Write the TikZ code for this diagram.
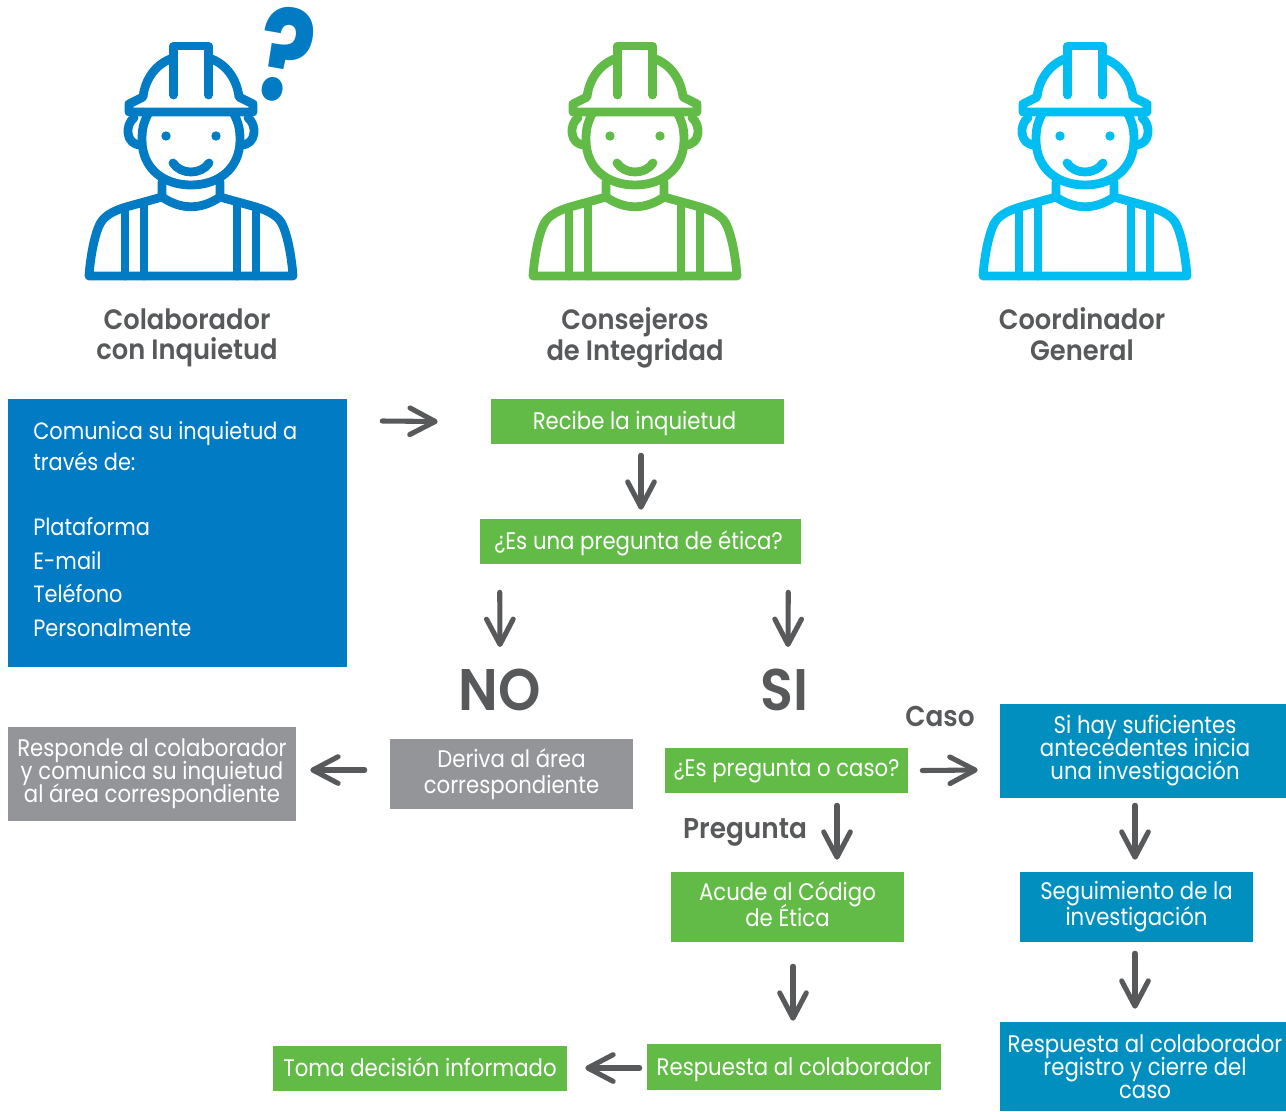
\documentclass[tikz,border=0pt]{standalone}
\usepackage{fontspec}
\setmainfont{Poppins}[FakeStretch=0.885]
\newfontfamily\qfont{Poppins}
\newfontfamily\semi{Poppins}[UprightFont=*-SemiBold,FakeStretch=0.92]
\usetikzlibrary{arrows.meta}
\definecolor{wblue}{HTML}{007BC4}
\definecolor{wgreen}{HTML}{62BB46}
\definecolor{wcyan}{HTML}{00BEF2}
\definecolor{wteal}{HTML}{008FBE}
\definecolor{wgray}{HTML}{939598}
\definecolor{wtext}{HTML}{58595B}
\newcommand\nols{\lineskiplimit=-30pt\relax}
\newcommand\tdp{\rule[-6pt]{0pt}{6pt}}
\newcommand\rsh{\hspace*{3pt}}
\tikzset{
  wh/.style 2 args={minimum width=#1*0.75pt,minimum height=#2*0.75pt},
  box/.style={inner sep=0pt,text=white,align=center,font=\fontsize{18}{19.5}\selectfont\nols},
  tight/.style={font=\fontsize{18}{17.25}\selectfont\nols},
  one/.style={text height=12pt,text depth=0pt},
  title/.style={inner sep=0pt,text=wtext,align=center,font=\semi\fontsize{21}{23}\selectfont\nols},
  big/.style={inner sep=0pt,text=wtext,text height=30pt,text depth=0pt,font=\semi\fontsize{44}{44}\selectfont},
  lab/.style={inner sep=0pt,text=wtext,font=\semi\fontsize{21.5}{22}\selectfont},
  arr/.style={draw=wtext,line width=3.8pt,line cap=round,
    -{Straight Barb[length=19pt,width=20pt,line width=3.8pt,round]}},
  pics/worker/.style={code={
    \begin{scope}[draw=#1,line width=6.6pt,line cap=round,line join=round]
      % helmet
      \draw (-17.5,95) -- (-17.5,46) -- (17.5,46) -- (17.5,95);
      \draw (-18,58) .. controls (-36,64) and (-46,80) .. (-48,97)
            -- (-62,104) -- (-62,112) -- (62,112) -- (62,104) -- (48,97)
            .. controls (46,80) and (36,64) .. (18,58);
      % face
      \draw (-43,114) .. controls (-48,124) and (-49,130) .. (-49,140)
            .. controls (-49,168) and (-28,185) .. (0,185)
            .. controls (28,185) and (49,168) .. (49,140)
            .. controls (49,130) and (48,124) .. (43,114);
      % ears
      \draw (-57,118) .. controls (-66,124) and (-66,145) .. (-50,145);
      \draw (57,118) .. controls (66,124) and (66,145) .. (50,145);
      % eyes and smile
      \fill[#1] (-25,136) circle[radius=4.7] (25,136) circle[radius=4.7];
      \draw (-18,163) .. controls (-10,175) and (10,175) .. (18,163);
      % neck and collar
      \draw (-29,182) -- (-29,197) .. controls (-10,210) and (10,210) .. (29,197) -- (29,182);
      % body
      \draw (-29,197) -- (-65,207) .. controls (-78,211) and (-88,216) .. (-92,226)
            .. controls (-98,240) and (-101,262) .. (-102,276) -- (102,276)
            .. controls (101,262) and (98,240) .. (92,226)
            .. controls (88,216) and (78,211) .. (65,207) -- (29,197);
      % straps
      \draw (-66,208) -- (-66,276) (-47,203) -- (-47,276);
      \draw (65,208) -- (65,276) (46,203) -- (46,276);
    \end{scope}
  }}
}
\begin{document}
\begin{tikzpicture}[x=0.75pt,y=-0.75pt]
\useasboundingbox (0,0) rectangle (1286,1111);
\pic at (191,0) {worker=wblue};
\pic at (635,0) {worker=wgreen};
\pic at (1085,0) {worker=wcyan};
\node[inner sep=0pt,text=wblue,rotate=-10,xscale=0.8,font=\qfont\fontsize{96}{96}\selectfont\bfseries] (qm) at (286,55) {?};

\node[title] (t1) at (187,338) {Colaborador\\con Inquietud\tdp};
\node[title] (t2) at (635,338) {Consejeros\\de Integridad\tdp};
\node[title] (t3) at (1082,338) {Coordinador\\General\tdp};

\node[box,fill=wblue,wh={339}{268}] (canal) at (177.5,533) {};
\node[box,anchor=west,align=left,font=\fontsize{17.7}{25.3}\selectfont\nols] (canaltxt) at (33,529)
  {Comunica su inquietud a\\[-1.9pt]trav\'es de:\\[-2pt]\\Plataforma\\E-mail\\Tel\'efono\\Personalmente};
\node[box,one,fill=wgreen,wh={293}{45}] (recibe) at (637.5,421.5) {Recibe la inquietud\hspace*{4.5pt}};
\node[box,one,fill=wgreen,wh={321}{45}] (esuna) at (640.5,541.5) {¿Es una pregunta de ética?\hspace*{3pt}};
\node[big] (no) at (499.5,690) {NO};
\node[big] (si) at (784.5,690) {SI};
\node[box,fill=wgray,wh={243}{70}] (deriva) at (511.5,774) {Deriva al área\\correspondiente};
\node[box,tight,fill=wgray,wh={288}{94}] (responde) at (152,774) {Responde al colaborador\\y comunica su inquietud\\al área correspondiente};
\node[box,one,text height=9.5pt,fill=wgreen,wh={243}{45}] (espreg) at (786.5,770.5) {¿Es pregunta o caso?};
\node[box,tight,fill=wteal,wh={286}{94}] (sihay) at (1143,751) {\rsh Si hay suficientes\\\rsh antecedentes inicia\\\rsh una investigación};
\node[box,fill=wteal,wh={233}{70}] (seg) at (1136.5,907) {Seguimiento de la\\investigación};
\node[box,tight,fill=wteal,wh={286}{89}] (cierre) at (1143,1066.5) {\rsh Respuesta al colaborador\\\rsh registro y cierre del\\\rsh caso};
\node[box,fill=wgreen,wh={233}{70}] (acude) at (787.5,907) {Acude al Código\\de Ética\rule[-4.5pt]{0pt}{4.5pt}};
\node[box,one,fill=wgreen,wh={294}{46}] (respcol) at (794,1067) {Respuesta al colaborador};
\node[box,one,fill=wgreen,wh={294}{45}] (toma) at (420,1068.5) {Toma decisión informado};
\node[lab] (caso) at (940,716) {Caso};
\node[lab] (preg) at (745,832) {Pregunta};

\draw[arr] ([shift={(35,-112)}]canal.east) -- ([shift={(-53,0)}]recibe.west);
\draw[arr] ([shift={(3.5,11)}]recibe.south) -- ([shift={(0.5,-9)}]esuna.north);
\draw[arr] ([shift={(20,28)}]esuna.south west) -- ([shift={(0.5,-43)}]no.center);
\draw[arr] ([shift={(-13,28)}]esuna.south east) -- ([shift={(3.5,-43)}]si.center);
\draw[arr] ([shift={(-25,-4)}]deriva.west) -- ([shift={(14,-4)}]responde.east);
\draw[arr] ([shift={(14,0)}]espreg.east) -- ([shift={(-22,19)}]sihay.west);
\draw[arr] ([shift={(50.5,12)}]espreg.south) -- ([shift={(49.5,-12)}]acude.north);
\draw[arr] ([shift={(-8,7)}]sihay.south) -- ([shift={(-1.5,-12)}]seg.north);
\draw[arr] ([shift={(-1.5,11)}]seg.south) -- ([shift={(-8,-13)}]cierre.north);
\draw[arr] ([shift={(5.5,24)}]acude.south) -- ([shift={(-1,-23)}]respcol.north);
\draw[arr] ([shift={(-7,1)}]respcol.west) -- ([shift={(18,-0.5)}]toma.east);
\end{tikzpicture}
\end{document}
